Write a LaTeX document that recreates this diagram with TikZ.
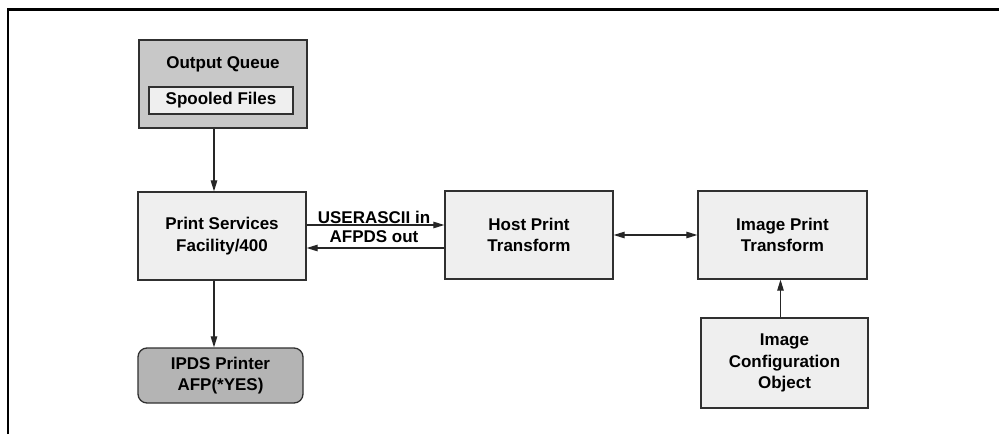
\documentclass[tikz,border=0pt]{standalone}
\usepackage{fontspec}
\setmainfont{Liberation Sans}
\usetikzlibrary{arrows.meta}
\definecolor{boxfill}{HTML}{EFEFEF}
\definecolor{qfill}{HTML}{C8C8C8}
\definecolor{pfill}{HTML}{B4B4B4}
\definecolor{edge}{HTML}{303030}
\begin{document}
\begin{tikzpicture}[x=1pt,y=-1pt,
  every node/.style={font=\fontsize{17}{21.5}\selectfont\bfseries, text=black, align=center, inner sep=0pt},
  procbox/.style={draw=edge, line width=1.3pt, fill=boxfill, minimum width=#1, minimum height=88pt},
  arr/.style={-{Triangle[length=11pt,width=6.5pt]}, line width=1.1pt, draw=black!85},
  dblarr/.style={{Triangle[length=11pt,width=6.5pt]}-{Triangle[length=11pt,width=6.5pt]}, line width=1.1pt, draw=black!85}]
\useasboundingbox (0,0) rectangle (999,434);
% partial frame
\draw[line width=2.7pt] (8,434) -- (8,9.5) -- (999,9.5);
% Output queue
\node[draw=edge, line width=1.3pt, fill=qfill, minimum width=168pt, minimum height=88pt] (oq) at (223,84) {};
\node (oqt) at (223,64) {Output Queue};
\node[draw=edge, line width=1.3pt, fill=boxfill, minimum width=144pt, minimum height=27pt] (sf) at (221,100.5) {Spooled Files};
% main boxes
\node[procbox=168pt] (psf) at (222,236) {Print Services\\Facility/400};
\node[procbox=168pt] (host) at (529,235) {Host Print\\Transform};
\node[procbox=169pt] (ipt) at (782.5,235) {Image Print\\Transform};
\node[procbox=167pt, minimum height=90pt] (ico) at (784.5,363) {Image\\Configuration\\Object};
\node[draw=edge, line width=1.3pt, fill=pfill, rounded corners=9pt, minimum width=165pt, minimum height=55pt] (ipds) at (220.5,375.5) {IPDS Printer\\AFP(*YES)};
% connectors
\draw[arr] ([xshift=-8pt]psf.north |- oq.south) -- ([xshift=-8pt]psf.north);
\draw[arr] ([xshift=-8pt]psf.south) -- ([xshift=-8pt]psf.south |- ipds.north);
\draw[arr] ([yshift=11pt]psf.east) -- ([yshift=11pt]psf.east -| host.west);
\draw[arr] ([yshift=-12pt]psf.east -| host.west) -- ([yshift=-12pt]psf.east);
\node[font=\fontsize{17}{19}\selectfont\bfseries] (lbl) at (374,226.5) {USERASCII in\\AFPDS out};
\draw[dblarr] (host.east) -- (ipt.west);
\draw[arr] ([xshift=-4pt]ico.north) -- ([xshift=-4pt]ico.north |- ipt.south);
\end{tikzpicture}
\end{document}
